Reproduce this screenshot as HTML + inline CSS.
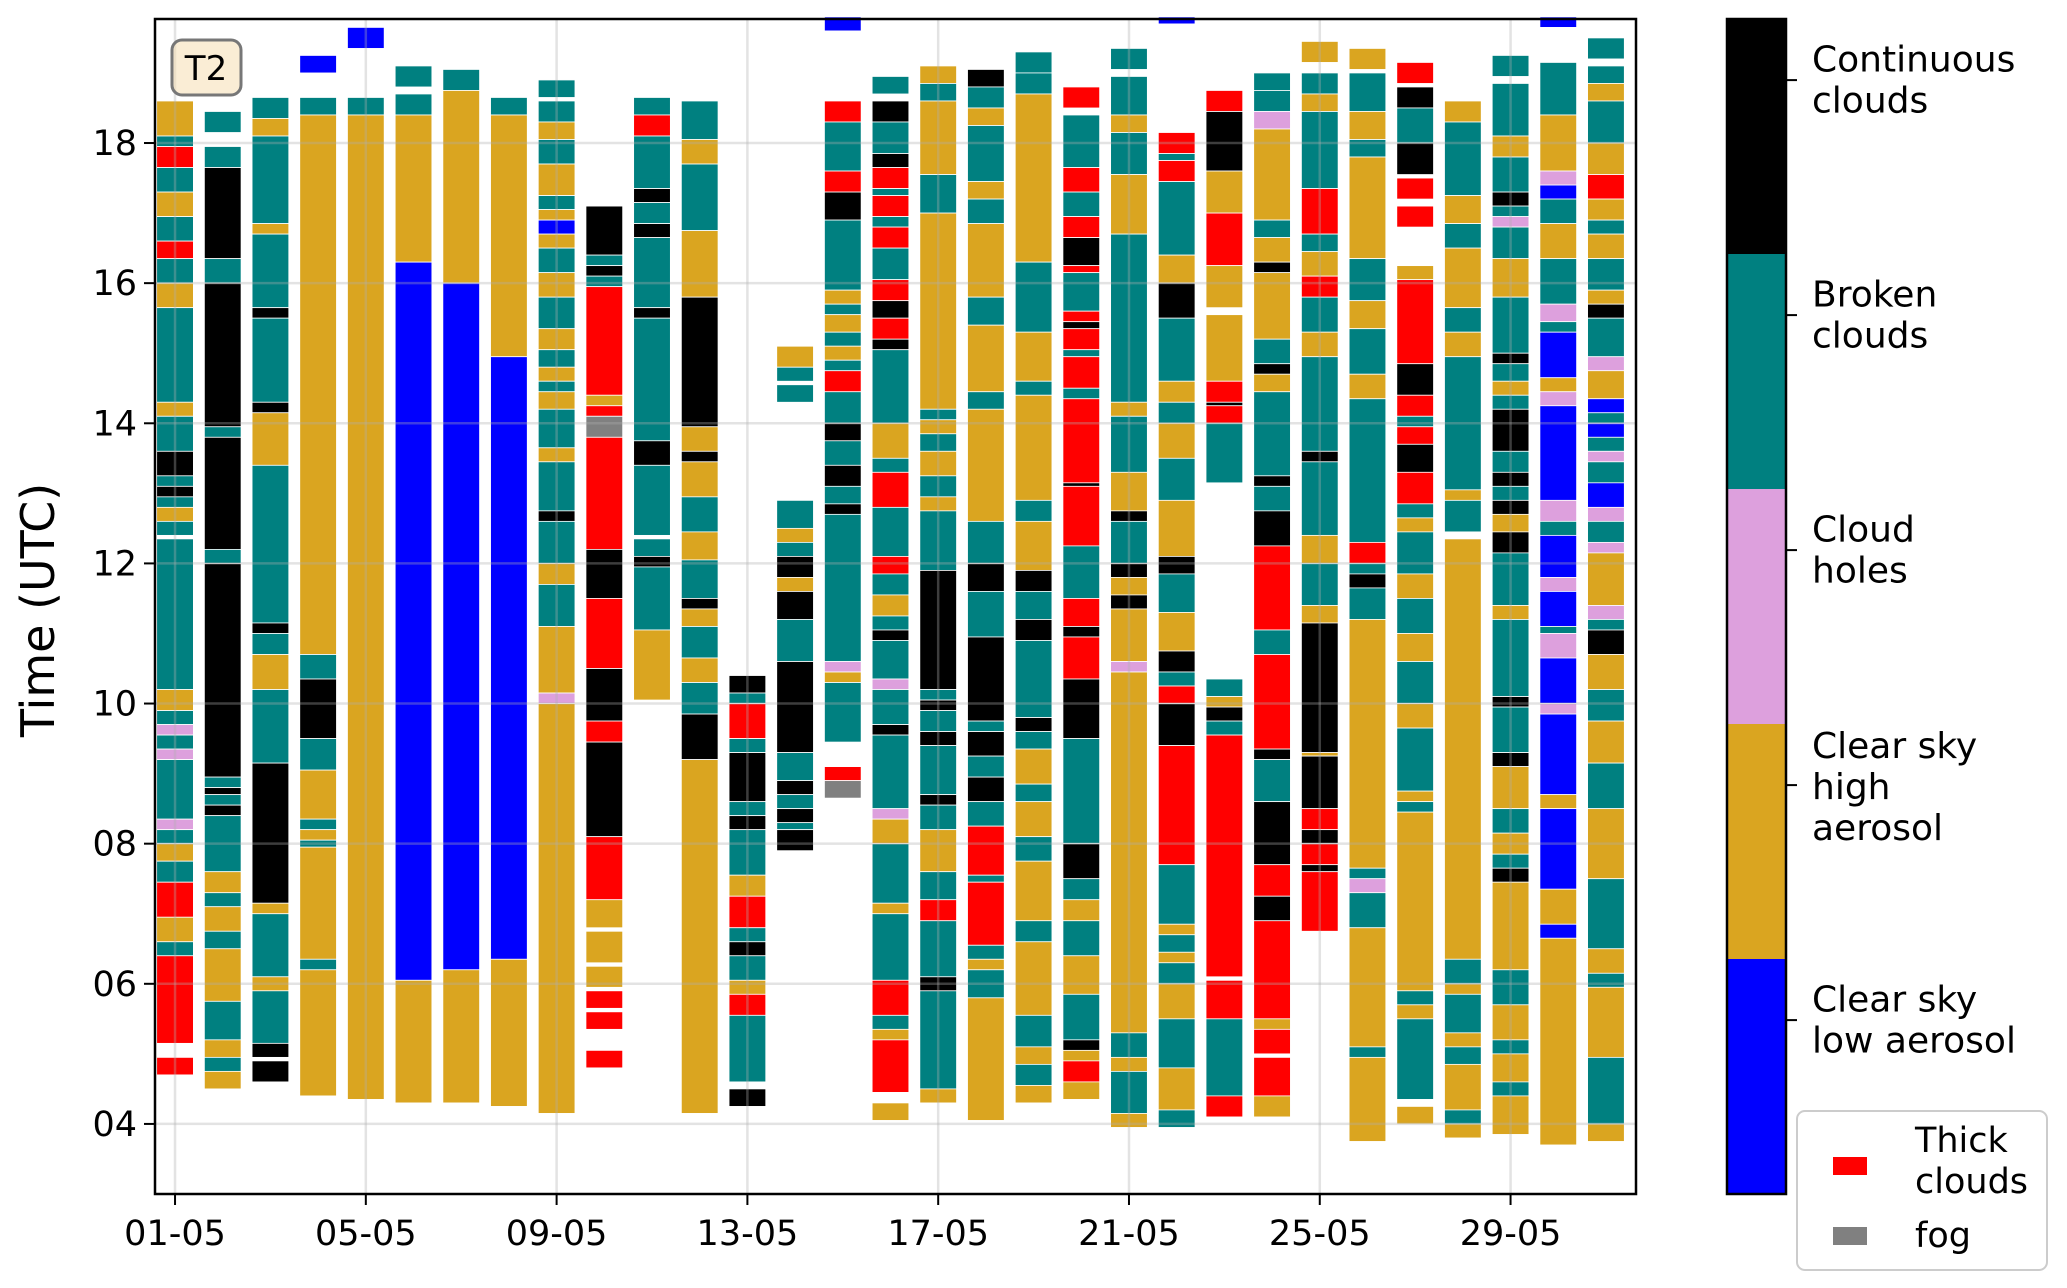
<!DOCTYPE html>
<html><head><meta charset="utf-8">
<style>
html,body{margin:0;padding:0;background:#fff;}
svg{display:block;font-family:"DejaVu Sans","Liberation Sans",sans-serif;}
</style></head>
<body>
<svg id="chart" width="2067" height="1288" viewBox="0 0 2067 1288" xmlns="http://www.w3.org/2000/svg">
<g id="bars"></g>
<g id="grid"></g>
<rect x="155" y="19" width="1481" height="1175" fill="none" stroke="#000" stroke-width="2.5"/>
<g id="xticks"></g>
<g id="yticks"></g>
<text x="0" y="0" transform="translate(54,610) rotate(-90)" font-size="46" text-anchor="middle">Time (UTC)</text>
<g>
<rect x="172" y="40" width="69" height="55" rx="10" fill="#f5deb3" fill-opacity="0.55" stroke="#777" stroke-width="3"/>
<text x="206" y="80" font-size="34" text-anchor="middle">T2</text>
</g>
<g id="cbar"></g>
<g>
<rect x="1797" y="1111" width="250" height="159" rx="8" fill="#fff" stroke="#ccc" stroke-width="2"/>
<rect x="1833" y="1157" width="34" height="18" fill="#ff0000"/>
<text font-size="35" x="1915" y="1152">Thick</text>
<text font-size="35" x="1915" y="1193">clouds</text>
<rect x="1833" y="1227" width="34" height="18" fill="#808080"/>
<text font-size="35" x="1915" y="1247">fog</text>
</g>
</svg>
<script>
const categoryColors = {K:'#000000',T:'#008080',P:'#dda0dd',Y:'#daa520',B:'#0000ff',R:'#ff0000',G:'#808080'};
const dayLabels = ['01-05','05-05','09-05','13-05','17-05','21-05','25-05','29-05'];
const dayTicks = [1,5,9,13,17,21,25,29];
const hourTicks = [4,6,8,10,12,14,16,18];
const hourLabels = ['04','06','08','10','12','14','16','18'];
const cbarLabels = [['Continuous','clouds'],['Broken','clouds'],['Cloud','holes'],['Clear sky','high','aerosol'],['Clear sky','low aerosol']];
const cbarColors = ['#000000','#008080','#dda0dd','#daa520','#0000ff'];
// segments per day: "top-bottom:code"
const d01="18.6-18.1Y,18.1-17.95T,17.95-17.65R,17.65-17.3T,17.3-16.95Y,16.95-16.6T,16.6-16.35R,16.35-16.0T,16.0-15.65Y,15.65-14.3T,14.3-14.1Y,14.1-13.6T,13.6-13.25K,13.25-13.1T,13.1-12.95K,12.95-12.8T,12.8-12.6Y,12.6-12.4T,12.35-10.2T,10.2-9.9Y,9.9-9.7T,9.7-9.55P,9.55-9.35T,9.35-9.2P,9.2-8.35T,8.35-8.2P,8.2-8.0T,8.0-7.75Y,7.75-7.45T,7.45-6.95R,6.95-6.6Y,6.6-6.4T,6.4-5.15R,4.95-4.7R";
const d02="18.45-18.15T,17.95-17.65T,17.65-16.35K,16.35-16.0T,16.0-13.95K,13.95-13.8T,13.8-12.2K,12.2-12.0T,12.0-8.95K,8.95-8.8T,8.8-8.7K,8.7-8.55T,8.55-8.4K,8.4-7.6T,7.6-7.3Y,7.3-7.1T,7.1-6.75Y,6.75-6.5T,6.5-5.75Y,5.75-5.2T,5.2-4.95Y,4.95-4.75T,4.75-4.5Y";
const d03="18.65-18.35T,18.35-18.1Y,18.1-16.85T,16.85-16.7Y,16.7-15.65T,15.65-15.5K,15.5-14.3T,14.3-14.15K,14.15-13.4Y,13.4-11.15T,11.15-11.0K,11.0-10.7T,10.7-10.2Y,10.2-9.15T,9.15-7.15K,7.15-7.0Y,7.0-6.1T,6.1-5.9Y,5.9-5.15T,5.15-4.95K,4.9-4.6K";
const d04="19.25-19.0B,18.65-18.4T,18.4-10.7Y,10.7-10.35T,10.35-9.5K,9.5-9.05T,9.05-8.35Y,8.35-8.2T,8.2-8.05Y,8.05-7.95T,7.95-6.35Y,6.35-6.2T,6.2-4.4Y";
const d05="19.65-19.35B,18.65-18.4T,18.4-4.35Y";
const d06="19.1-18.8T,18.7-18.4T,18.4-16.3Y,16.3-6.05B,6.05-4.3Y";
const d07="19.05-18.75T,18.75-16.0Y,16.0-6.2B,6.2-4.3Y";
const d08="18.65-18.4T,18.4-14.95Y,14.95-6.35B,6.35-4.25Y";
const d09="18.9-18.65T,18.6-18.3T,18.3-18.05Y,18.05-17.7T,17.7-17.25Y,17.25-17.05T,17.05-16.9Y,16.9-16.7B,16.7-16.5Y,16.5-16.15T,16.15-15.8Y,15.8-15.35T,15.35-15.05Y,15.05-14.8T,14.8-14.6Y,14.6-14.45T,14.45-14.2Y,14.2-13.65T,13.65-13.45Y,13.45-12.75T,12.75-12.6K,12.6-12.0T,12.0-11.7Y,11.7-11.1T,11.1-10.15Y,10.15-10.0P,10.0-4.15Y";
const d10="17.1-16.4K,16.4-16.25T,16.25-16.1K,16.1-15.95T,15.95-14.4R,14.4-14.25Y,14.25-14.1R,14.1-13.8G,13.8-12.2R,12.2-11.5K,11.5-10.5R,10.5-9.75K,9.75-9.45R,9.45-8.1K,8.1-7.2R,7.2-6.8Y,6.75-6.3Y,6.25-5.95Y,5.9-5.65R,5.6-5.35R,5.05-4.8R";
const d11="18.65-18.4T,18.4-18.1R,18.1-17.35T,17.35-17.15K,17.15-16.85T,16.85-16.65K,16.65-15.65T,15.65-15.5K,15.5-13.75T,13.75-13.4K,13.4-12.4T,12.35-12.1T,12.1-11.95K,11.95-11.05T,11.05-10.05Y";
const d12="18.6-18.05T,18.05-17.7Y,17.7-16.75T,16.75-15.8Y,15.8-13.95K,13.95-13.6Y,13.6-13.45K,13.45-12.95Y,12.95-12.45T,12.45-12.05Y,12.05-11.5T,11.5-11.35K,11.35-11.1Y,11.1-10.65T,10.65-10.3Y,10.3-9.85T,9.85-9.2K,9.2-4.15Y";
const d13="10.4-10.15K,10.15-10.0T,10.0-9.5R,9.5-9.3T,9.3-8.6K,8.6-8.4T,8.4-8.2K,8.2-7.55T,7.55-7.25Y,7.25-6.8R,6.8-6.6T,6.6-6.4K,6.4-6.05T,6.05-5.85Y,5.85-5.55R,5.55-4.6T,4.5-4.25K";
const d14="15.1-14.8Y,14.8-14.6T,14.55-14.3T,12.9-12.5T,12.5-12.3Y,12.3-12.1T,12.1-11.8K,11.8-11.6Y,11.6-11.2K,11.2-10.6T,10.6-9.3K,9.3-8.9T,8.9-8.7K,8.7-8.5T,8.5-8.3K,8.3-8.2T,8.2-7.9K";
const d15="19.8-19.6B,18.6-18.3R,18.3-17.6T,17.6-17.3R,17.3-16.9K,16.9-15.9T,15.9-15.7Y,15.7-15.55T,15.55-15.3Y,15.3-15.1T,15.1-14.9Y,14.9-14.75T,14.75-14.45R,14.45-14.0T,14.0-13.75K,13.75-13.4T,13.4-13.1K,13.1-12.85T,12.85-12.7K,12.7-10.6T,10.6-10.45P,10.45-10.3Y,10.3-9.45T,9.1-8.9R,8.9-8.65G";
const d16="18.95-18.7T,18.6-18.3K,18.3-17.85T,17.85-17.65K,17.65-17.35R,17.35-17.25T,17.25-16.95R,16.95-16.8T,16.8-16.5R,16.5-16.05T,16.05-15.75R,15.75-15.5K,15.5-15.2R,15.2-15.05K,15.05-14.0T,14.0-13.5Y,13.5-13.3T,13.3-12.8R,12.8-12.1T,12.1-11.85R,11.85-11.55T,11.55-11.25Y,11.25-11.05T,11.05-10.9K,10.9-10.35T,10.35-10.2P,10.2-9.7T,9.7-9.55K,9.55-8.5T,8.5-8.35P,8.35-8.0Y,8.0-7.15T,7.15-7.0Y,7.0-6.05T,6.05-5.55R,5.55-5.35T,5.35-5.2Y,5.2-4.45R,4.3-4.05Y";
const d17="19.1-18.85Y,18.85-18.6T,18.6-17.55Y,17.55-17.0T,17.0-14.2Y,14.2-14.05T,14.05-13.85Y,13.85-13.6T,13.6-13.25Y,13.25-12.95T,12.95-12.75Y,12.75-11.9T,11.9-10.2K,10.2-10.05T,10.05-9.9K,9.9-9.6T,9.6-9.4K,9.4-8.7T,8.7-8.55K,8.55-8.2T,8.2-7.6Y,7.6-7.2T,7.2-6.9R,6.9-6.1T,6.1-5.9K,5.9-4.5T,4.5-4.3Y";
const d18="19.05-18.8K,18.8-18.5T,18.5-18.25Y,18.25-17.45T,17.45-17.2Y,17.2-16.85T,16.85-15.8Y,15.8-15.4T,15.4-14.45Y,14.45-14.2T,14.2-12.6Y,12.6-12.0T,12.0-11.6K,11.6-10.95T,10.95-9.75K,9.75-9.6T,9.6-9.25K,9.25-8.95T,8.95-8.6K,8.6-8.25T,8.25-7.55R,7.55-7.45T,7.45-6.55R,6.55-6.35T,6.35-6.2Y,6.2-5.8T,5.8-4.05Y";
const d19="19.3-19.0T,19.0-18.7T,18.7-16.3Y,16.3-15.3T,15.3-14.6Y,14.6-14.4T,14.4-12.9Y,12.9-12.6T,12.6-11.9Y,11.9-11.6K,11.6-11.2T,11.2-10.9K,10.9-9.8T,9.8-9.6K,9.6-9.35T,9.35-8.85Y,8.85-8.6T,8.6-8.1Y,8.1-7.75T,7.75-6.9Y,6.9-6.6T,6.6-5.55Y,5.55-5.1T,5.1-4.85Y,4.85-4.55T,4.55-4.3Y";
const d20="18.8-18.5R,18.4-17.65T,17.65-17.3R,17.3-16.95T,16.95-16.65R,16.65-16.25K,16.25-16.15R,16.15-15.6T,15.6-15.45R,15.45-15.35K,15.35-15.05R,15.05-14.95T,14.95-14.5R,14.5-14.35T,14.35-13.15R,13.15-13.1K,13.1-12.25R,12.25-11.5T,11.5-11.1R,11.1-10.95K,10.95-10.35R,10.35-9.5K,9.5-8.0T,8.0-7.5K,7.5-7.2T,7.2-6.9Y,6.9-6.4T,6.4-5.85Y,5.85-5.2T,5.2-5.05K,5.05-4.9Y,4.9-4.6R,4.6-4.35Y";
const d21="19.35-19.05T,18.95-18.4T,18.4-18.15Y,18.15-17.55T,17.55-16.7Y,16.7-14.3T,14.3-14.1Y,14.1-13.3T,13.3-12.75Y,12.75-12.6K,12.6-12.0T,12.0-11.8K,11.8-11.55Y,11.55-11.35K,11.35-10.6Y,10.6-10.45P,10.45-5.3Y,5.3-4.95T,4.95-4.75Y,4.75-4.15T,4.15-3.95Y";
const d22="19.8-19.7B,18.15-17.85R,17.85-17.75T,17.75-17.45R,17.45-16.4T,16.4-16.0Y,16.0-15.5K,15.5-14.6T,14.6-14.3Y,14.3-14.0T,14.0-13.5Y,13.5-12.9T,12.9-12.1Y,12.1-11.85K,11.85-11.3T,11.3-10.75Y,10.75-10.45K,10.45-10.25T,10.25-10.0R,10.0-9.4K,9.4-7.7R,7.7-6.85T,6.85-6.7Y,6.7-6.45T,6.45-6.3Y,6.3-6.0T,6.0-5.5Y,5.5-4.8T,4.8-4.2Y,4.2-3.95T";
const d23="18.75-18.45R,18.45-17.6K,17.6-17.0Y,17.0-16.25R,16.25-15.65Y,15.55-14.6Y,14.6-14.3R,14.3-14.25K,14.25-14.0R,14.0-13.15T,10.35-10.1T,10.1-9.95Y,9.95-9.75K,9.75-9.55T,9.55-6.1R,6.05-5.5R,5.5-4.4T,4.4-4.1R";
const d24="19.0-18.75T,18.75-18.45T,18.45-18.2P,18.2-16.9Y,16.9-16.65T,16.65-16.3Y,16.3-16.15K,16.15-15.2Y,15.2-14.85T,14.85-14.7K,14.7-14.45Y,14.45-13.25T,13.25-13.1K,13.1-12.75T,12.75-12.25K,12.25-11.05R,11.05-10.7T,10.7-9.35R,9.35-9.2K,9.2-8.6T,8.6-7.7K,7.7-7.25R,7.25-6.9K,6.9-5.5R,5.5-5.35Y,5.35-5.0R,4.95-4.4R,4.4-4.1Y";
const d25="19.45-19.15Y,19.0-18.7T,18.7-18.45Y,18.45-17.35T,17.35-16.7R,16.7-16.45T,16.45-16.1Y,16.1-15.8R,15.8-15.3T,15.3-14.95Y,14.95-13.6T,13.6-13.45K,13.45-12.4T,12.4-12.0Y,12.0-11.4T,11.4-11.15Y,11.15-9.3K,9.3-9.25Y,9.25-8.5K,8.5-8.2R,8.2-8.0K,8.0-7.7R,7.7-7.6K,7.6-6.75R";
const d26="19.35-19.05Y,19.0-18.45T,18.45-18.05Y,18.05-17.8T,17.8-16.35Y,16.35-15.75T,15.75-15.35Y,15.35-14.7T,14.7-14.35Y,14.35-12.3T,12.3-12.0R,12.0-11.85T,11.85-11.65K,11.65-11.2T,11.2-7.65Y,7.65-7.5T,7.5-7.3P,7.3-6.8T,6.8-5.1Y,5.1-4.95T,4.95-3.75Y";
const d27="19.15-18.85R,18.8-18.5K,18.5-18.0T,18.0-17.55K,17.5-17.2R,17.1-16.8R,16.25-16.05Y,16.05-14.85R,14.85-14.4K,14.4-14.1R,14.1-13.95T,13.95-13.7R,13.7-13.3K,13.3-12.85R,12.85-12.65T,12.65-12.45Y,12.45-11.85T,11.85-11.5Y,11.5-11.0T,11.0-10.6Y,10.6-10.0T,10.0-9.65Y,9.65-8.75T,8.75-8.6Y,8.6-8.45T,8.45-5.9Y,5.9-5.7T,5.7-5.5Y,5.5-4.35T,4.25-4.0Y";
const d28="18.6-18.3Y,18.3-17.25T,17.25-16.85Y,16.85-16.5T,16.5-15.65Y,15.65-15.3T,15.3-14.95Y,14.95-13.05T,13.05-12.9Y,12.9-12.45T,12.35-6.35Y,6.35-6.0T,6.0-5.85Y,5.85-5.3T,5.3-5.1Y,5.1-4.85T,4.85-4.2Y,4.2-4.0T,4.0-3.8Y";
const d29="19.25-18.95T,18.85-18.1T,18.1-17.8Y,17.8-17.3T,17.3-17.1K,17.1-16.95T,16.95-16.8P,16.8-16.35T,16.35-15.8Y,15.8-15.0T,15.0-14.85K,14.85-14.6T,14.6-14.4Y,14.4-14.2T,14.2-13.6K,13.6-13.3T,13.3-13.1K,13.1-12.9T,12.9-12.7K,12.7-12.45Y,12.45-12.15K,12.15-11.4T,11.4-11.2Y,11.2-10.1T,10.1-9.95K,9.95-9.3T,9.3-9.1K,9.1-8.5Y,8.5-8.15T,8.15-7.85Y,7.85-7.65T,7.65-7.45K,7.45-6.2Y,6.2-5.7T,5.7-5.2Y,5.2-5.0T,5.0-4.6Y,4.6-4.4T,4.4-3.85Y";
const d30="19.8-19.65B,19.15-18.4T,18.4-17.6Y,17.6-17.4P,17.4-17.2B,17.2-16.85T,16.85-16.35Y,16.35-15.7T,15.7-15.45P,15.45-15.3T,15.3-14.65B,14.65-14.45Y,14.45-14.25P,14.25-12.9B,12.9-12.6P,12.6-12.4T,12.4-11.8B,11.8-11.6P,11.6-11.1B,11.1-11.0T,11.0-10.65P,10.65-10.0B,10.0-9.85P,9.85-8.7B,8.7-8.5Y,8.5-7.35B,7.35-6.85Y,6.85-6.65B,6.65-3.7Y";
const d31="19.5-19.2T,19.1-18.85T,18.85-18.6Y,18.6-18.0T,18.0-17.55Y,17.55-17.2R,17.2-16.9Y,16.9-16.7T,16.7-16.35Y,16.35-15.9T,15.9-15.7Y,15.7-15.5K,15.5-14.95T,14.95-14.75P,14.75-14.35Y,14.35-14.15B,14.15-14.0T,14.0-13.8B,13.8-13.6T,13.6-13.45P,13.45-13.15T,13.15-12.8B,12.8-12.6P,12.6-12.3T,12.3-12.15P,12.15-11.4Y,11.4-11.2P,11.2-11.05T,11.05-10.7K,10.7-10.2Y,10.2-9.75T,9.75-9.15Y,9.15-8.5T,8.5-7.5Y,7.5-6.5T,6.5-6.15Y,6.15-5.95T,5.95-4.95Y,4.95-4.0T,4.0-3.75Y";
const daySegments = [d01,d02,d03,d04,d05,d06,d07,d08,d09,d10,d11,d12,d13,d14,d15,d16,d17,d18,d19,d20,d21,d22,d23,d24,d25,d26,d27,d28,d29,d30,d31];

const NS='http://www.w3.org/2000/svg';
const PL=155,PR=1636,PT=19,PB=1194;
const XMIN=0.58,XMAX=31.63,YMIN=3.0,YMAX=19.77;
function xs(d){return PL+(d-XMIN)/(XMAX-XMIN)*(PR-PL);}
function ys(h){return PB-(h-YMIN)/(YMAX-YMIN)*(PB-PT);}
function mk(tag,attrs,parent){const e=document.createElementNS(NS,tag);for(const k in attrs)e.setAttribute(k,attrs[k]);parent.appendChild(e);return e;}
const bars=document.getElementById('bars');
const bw=(xs(2)-xs(1))*0.77;
daySegments.forEach((str,i)=>{
  const day=i+1;
  const g=mk('g',{},bars);
  
  
  str.split(',').forEach(s=>{
    const code=s.slice(-1);const parts=s.slice(0,-1).split('-');
    const top=parseFloat(parts[0]),bot=parseFloat(parts[1]);
    const r=mk('rect',{x:xs(day)-bw/2,y:ys(top),width:bw,height:Math.max(1,ys(bot)-ys(top)),fill:categoryColors[code],stroke:'#fff','stroke-width':0.8},g);
    
    
  });
});
const grid=document.getElementById('grid');
dayTicks.forEach(d=>{const l=mk('line',{x1:xs(d),x2:xs(d),y1:PT,y2:PB,stroke:'#b0b0b0','stroke-opacity':0.35,'stroke-width':2.5},grid);

});
hourTicks.forEach(h=>{const l=mk('line',{x1:PL,x2:PR,y1:ys(h),y2:ys(h),stroke:'#b0b0b0','stroke-opacity':0.35,'stroke-width':2.5},grid);

});
const xt=document.getElementById('xticks');
dayTicks.forEach((d,i)=>{mk('line',{x1:xs(d),x2:xs(d),y1:PB,y2:PB+11,stroke:'#000','stroke-width':2},xt);
const t=mk('text',{x:xs(d),y:PB+51,'font-size':35,'text-anchor':'middle'},xt);t.textContent=dayLabels[i];

});
const yt=document.getElementById('yticks');
hourTicks.forEach((h,i)=>{mk('line',{x1:PL-11,x2:PL,y1:ys(h),y2:ys(h),stroke:'#000','stroke-width':2},yt);
const t=mk('text',{x:PL-18,y:ys(h)+12,'font-size':35,'text-anchor':'end'},yt);t.textContent=hourLabels[i];

});
const cb=document.getElementById('cbar');
const CX=1727,CW=59,segH=(PB-PT)/5;
cbarColors.forEach((c,i)=>{const r=mk('rect',{x:CX,y:PT+i*segH,width:CW,height:segH,fill:c},cb);


const cy=PT+i*segH+segH*0.26;
mk('line',{x1:CX+CW,x2:CX+CW+11,y1:cy,y2:cy,stroke:'#000','stroke-width':2},cb);
const lines=cbarLabels[i];const lh=41;const y0=cy-(lines.length===3?lh*0.95:lh*0.5)+12;
lines.forEach((ln,j)=>{const t=mk('text',{x:1812,y:y0+j*lh,'font-size':36},cb);t.textContent=ln;

});
});
mk('rect',{x:CX,y:PT,width:CW,height:PB-PT,fill:'none',stroke:'#000','stroke-width':2.5},cb);
</script>
</body></html>
